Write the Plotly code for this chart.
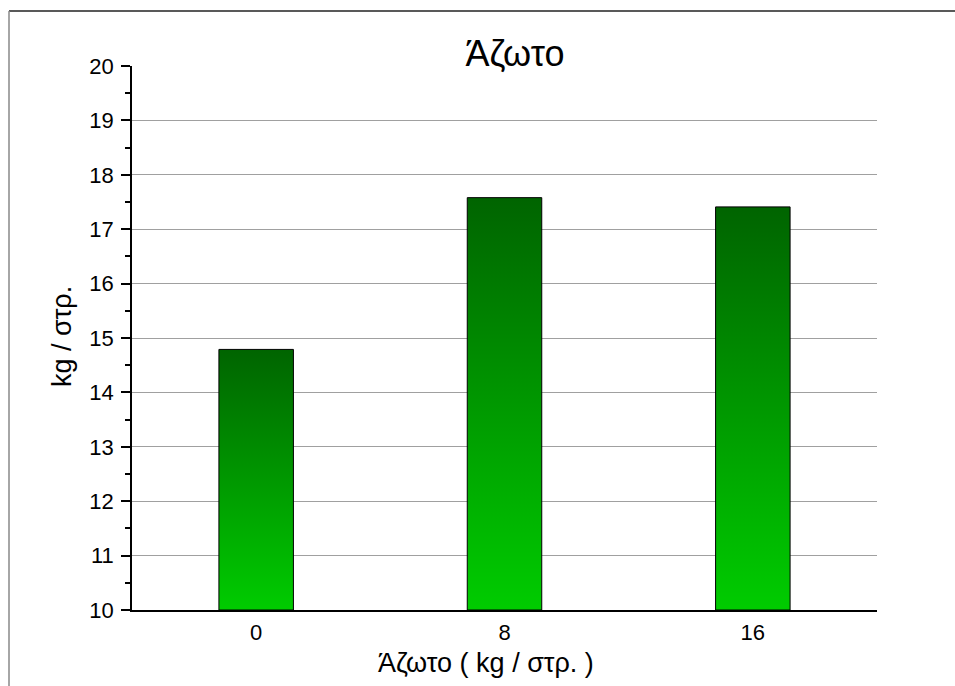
import plotly.graph_objects as go

categories = ["0", "8", "16"]
values = [14.79, 17.58, 17.41]
y_base = 10
bar_width = 0.3
title_text = "Άζωτο"
x_title = "Άζωτο ( kg / στρ. )"
y_title = "kg / στρ."
grad_colors = [[0, "#00cc00"], [1, "#006400"]]

FONT = "Liberation Sans, Arial, sans-serif"
W, H = 955, 686
L, R, T, B = 132, 78, 66, 76
PW, PH = W - L - R, H - T - B


def px_x(px):
    return (px - L) / PW


def px_y(py):
    return (H - B - py) / PH


fig = go.Figure()
for i, (cat, v) in enumerate(zip(categories, values)):
    x0, x1 = i - bar_width / 2, i + bar_width / 2
    fig.add_trace(go.Scatter(
        x=[x0, x1, x1, x0, x0],
        y=[y_base, y_base, v, v, y_base],
        mode="lines",
        fill="toself",
        fillgradient=dict(type="vertical", colorscale=grad_colors),
        line=dict(color="black", width=1),
        name=cat,
        showlegend=False,
        hoveron="fills",
        text=f"{cat}: {v}",
    ))

fig.update_layout(
    width=W, height=H,
    margin=dict(l=L, r=R, t=T, b=B),
    paper_bgcolor="white",
    plot_bgcolor="white",
    font=dict(family=FONT, size=22, color="black"),
    title=dict(text=title_text, x=515 / W, xanchor="center", y=1 - 53 / H, yanchor="middle",
               font=dict(size=36, family=FONT, color="black")),
    xaxis=dict(
        range=[-0.5, len(categories) - 0.5],
        tickvals=list(range(len(categories))),
        ticktext=categories,
        showgrid=False,
        zeroline=False,
        showline=True, linecolor="black", linewidth=2,
        ticks="outside", ticklen=2, tickcolor="rgba(0,0,0,0)",
        tickfont=dict(size=22),
    ),
    yaxis=dict(
        range=[10, 20],
        dtick=1,
        showgrid=True, gridcolor="#a0a0a0", gridwidth=1,
        zeroline=False,
        showline=True, linecolor="black", linewidth=1.5,
        ticks="outside", ticklen=9, tickwidth=1.5, tickcolor="black",
        ticklabelstandoff=3,
        minor=dict(dtick=0.5, ticks="outside", ticklen=5, tickwidth=1.5, tickcolor="black", showgrid=False),
        tickfont=dict(size=22),
    ),
    annotations=[
        dict(text=y_title, xref="paper", yref="paper", x=px_x(62), y=px_y(337),
             textangle=-90, showarrow=False, font=dict(size=27), xanchor="center", yanchor="middle"),
        dict(text=x_title, xref="paper", yref="paper", x=px_x(486), y=px_y(663),
             showarrow=False, font=dict(size=27), xanchor="center", yanchor="middle"),
    ],
    shapes=[
        dict(type="line", xref="paper", yref="paper",
             x0=px_x(9), x1=px_x(960), y0=px_y(11), y1=px_y(11),
             line=dict(color="#222222", width=1.5), layer="below"),
        dict(type="line", xref="paper", yref="paper",
             x0=px_x(9), x1=px_x(9), y0=px_y(11), y1=px_y(700),
             line=dict(color="#888888", width=1.5), layer="below"),
    ],
)

fig.write_html("out.html")
